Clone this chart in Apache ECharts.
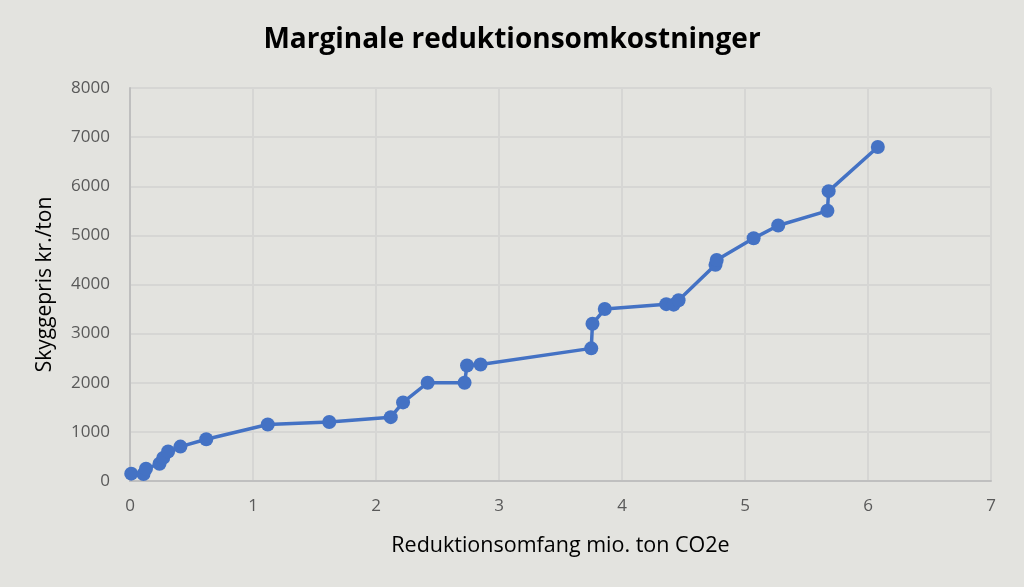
<!DOCTYPE html>
<html>
<head>
<meta charset="utf-8">
<script src="https://cdn.jsdelivr.net/npm/echarts@6/dist/echarts.min.js"></script>
<style>
html,body{margin:0;padding:0;background:#e3e3df;}
#main{width:1024px;height:587px;}
</style>
</head>
<body>
<div id="main"></div>
<script>
// reduktionsomfang (mio. ton CO2e) og skyggepris (kr./ton)
var omfang = [0.01, 0.11, 0.13, 0.24, 0.27, 0.31, 0.41, 0.62, 1.12, 1.62, 2.12, 2.22, 2.42, 2.72, 2.74, 2.85, 3.75, 3.76, 3.86, 4.36, 4.42, 4.46, 4.76, 4.77, 5.07, 5.27, 5.67, 5.68, 6.08];
var pris = [150, 140, 250, 350, 470, 600, 700, 850, 1150, 1200, 1300, 1600, 2000, 2000, 2350, 2370, 2700, 3200, 3500, 3600, 3590, 3680, 4400, 4500, 4940, 5200, 5500, 5900, 6800];
var xTicks = [0, 1, 2, 3, 4, 5, 6, 7];
var yTicks = [0, 1000, 2000, 3000, 4000, 5000, 6000, 7000, 8000];

var punkter = [];
for (var i = 0; i < omfang.length; i++) {
    punkter.push([omfang[i], pris[i]]);
}

var chartDom = document.getElementById('main');
var myChart = echarts.init(chartDom);
var option;

option = {
    backgroundColor: '#e3e3df',
    textStyle: { fontFamily: 'Open Sans' },
    title: {
        text: 'Marginale reduktionsomkostninger',
        left: 'center',
        top: 21,
        textStyle: { fontSize: 28, fontWeight: 'bold', color: '#000', fontFamily: 'Open Sans' }
    },
    grid: { left: 130, right: 33, top: 88, bottom: 106 },
    xAxis: {
        type: 'value',
        min: xTicks[0],
        max: xTicks[xTicks.length - 1],
        interval: 1,
        name: 'Reduktionsomfang mio. ton CO2e',
        nameLocation: 'middle',
        nameGap: 54,
        nameTextStyle: { fontSize: 21.5, color: '#000' },
        axisLine: { lineStyle: { color: '#bfbfbf', width: 2 } },
        axisTick: { show: false },
        axisLabel: { fontSize: 17, color: '#595959', margin: 17 },
        splitLine: { lineStyle: { color: '#d6d6d4', width: 2 } }
    },
    yAxis: {
        type: 'value',
        min: yTicks[0],
        max: yTicks[yTicks.length - 1],
        interval: 1000,
        name: 'Skyggepris kr./ton',
        nameLocation: 'middle',
        nameGap: 74,
        nameTextStyle: { fontSize: 21, color: '#000' },
        axisLine: { show: true, lineStyle: { color: '#bfbfbf', width: 2 } },
        axisTick: { show: false },
        axisLabel: { fontSize: 17, color: '#595959', margin: 20, formatter: function (v) { return String(v); } },
        splitLine: { lineStyle: { color: '#d6d6d4', width: 2 } }
    },
    series: [
        {
            type: 'line',
            data: punkter,
            symbol: 'circle',
            symbolSize: 14,
            lineStyle: { color: '#4472c4', width: 3.5 },
            itemStyle: { color: '#4472c4' },
            animation: false
        }
    ]
};

option && myChart.setOption(option);
</script>
</body>
</html>
